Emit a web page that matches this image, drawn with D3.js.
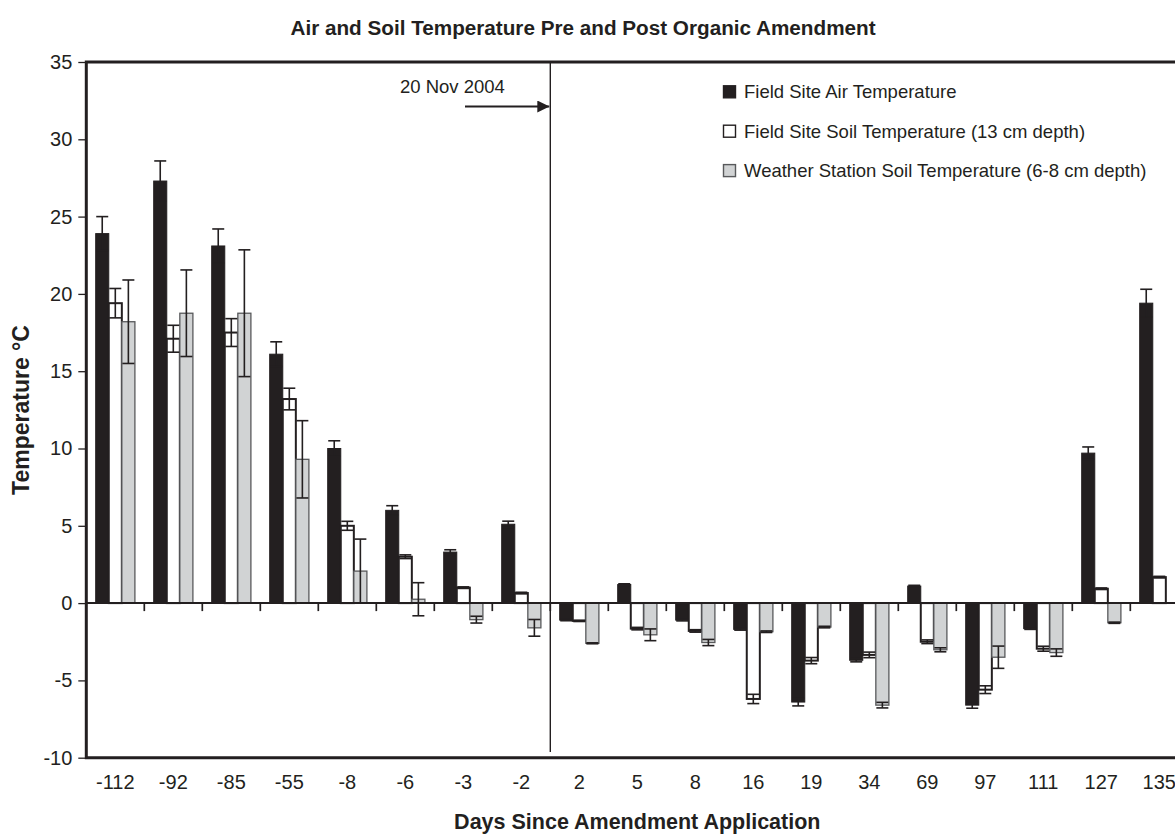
<!DOCTYPE html>
<html>
<head>
<meta charset="utf-8">
<script src="https://cdnjs.cloudflare.com/ajax/libs/d3/7.8.5/d3.min.js"></script>
<style>
  body { margin: 0; background: #fff; }
  text { font-family: "Liberation Sans", Arial, sans-serif; fill: #231f20; }
</style>
</head>
<body>
<div id="chart"></div>
<script>
// data
var days = ['-112','-92','-85','-55','-8','-6','-3','-2','2','5','8','16','19','34','69','97','111','127','135'];
var airTemp = [23.9, 27.3, 23.1, 16.1, 10.0, 6.0, 3.3, 5.1, -1.1, 1.2, -1.1, -1.7, -6.4, -3.7, 1.1, -6.6, -1.65, 9.7, 19.4];
var airErr = [1.1, 1.3, 1.1, 0.8, 0.5, 0.3, 0.15, 0.2, 0.04, 0.05, 0.05, 0.05, 0.25, 0.1, 0.05, 0.2, 0.05, 0.4, 0.9];
var soilTemp = [19.4, 17.1, 17.5, 13.2, 5.0, 3.0, 1.0, 0.65, -1.15, -1.65, -1.8, -6.2, -3.72, -3.35, -2.5, -5.6, -2.95, 0.93, 1.68];
var soilErr = [0.95, 0.87, 0.9, 0.7, 0.29, 0.12, 0.05, 0.05, 0.04, 0.08, 0.08, 0.3, 0.2, 0.18, 0.12, 0.25, 0.16, 0.05, 0.05];
var stationTemp = [18.2, 18.75, 18.75, 9.3, 2.07, 0.25, -1.07, -1.6, -2.6, -2.05, -2.55, -1.85, -1.55, -6.6, -3.02, -3.5, -3.2, -1.27, null];
var stationErr = [2.7, 2.8, 4.1, 2.5, 2.07, 1.07, 0.22, 0.54, 0.03, 0.38, 0.2, 0.05, 0.05, 0.18, 0.13, 0.72, 0.24, 0.04, 0];
var seriesNames = ['Field Site Air Temperature', 'Field Site Soil Temperature (13 cm depth)', 'Weather Station Soil Temperature (6-8 cm depth)'];
var yTicks = [-10, -5, 0, 5, 10, 15, 20, 25, 30, 35];

var ink = '#231f20';
var fills = [ink, '#ffffff', '#d1d3d4'];
var strokes = [ink, ink, '#58595b'];
var strokeW = [1, 2, 1.3];

var W = 1175, H = 835;
var plot = {left: 86.3, right: 1188.3, top: 62, bottom: 757.7};

var svg = d3.select('#chart').append('svg')
  .attr('width', W)
  .attr('height', H);

var x = d3.scaleBand().domain(days).range([plot.left, plot.right]).padding(0);
var xs = d3.scaleBand().domain([0, 1, 2]).range([9.4, 48.6]);
var y = d3.scaleLinear().domain([-10, 35]).range([plot.bottom, plot.top]);

// one row per series so bars and error bars come from the arrays
var series = [
  {vals: airTemp, errs: airErr},
  {vals: soilTemp, errs: soilErr},
  {vals: stationTemp, errs: stationErr}
];

function rowsOf(s){
  return days.map(function(d, i){ return {day: d, v: s.vals[i], e: s.errs[i]}; })
    .filter(function(r){ return r.v !== null; });
}

// bars
series.forEach(function(s, si){
  svg.append('g').selectAll('rect')
    .data(rowsOf(s))
    .enter()
    .append('rect')
    .attr('x', function(d){ return x(d.day) + xs(si); })
    .attr('width', xs.bandwidth())
    .attr('y', function(d){ return y(Math.max(0, d.v)); })
    .attr('height', function(d){ return Math.abs(y(d.v) - y(0)); })
    .attr('fill', fills[si])
    .attr('stroke', strokes[si])
    .attr('stroke-width', strokeW[si]);
});

// error bars
series.forEach(function(s, si){
  var g = svg.append('g').attr('stroke', ink).attr('stroke-width', 1.6);
  rowsOf(s).forEach(function(d){
    var cx = x(d.day) + xs(si) + xs.bandwidth() / 2;
    var hi = y(d.v + d.e), lo = y(d.v - d.e);
    g.append('line').attr('x1', cx).attr('x2', cx).attr('y1', hi).attr('y2', lo);
    g.append('line').attr('x1', cx - 6).attr('x2', cx + 6).attr('y1', hi).attr('y2', hi);
    g.append('line').attr('x1', cx - 6).attr('x2', cx + 6).attr('y1', lo).attr('y2', lo);
  });
});

// zero line with category ticks between bands
svg.append('line')
  .attr('x1', plot.left).attr('x2', W)
  .attr('y1', y(0)).attr('y2', y(0))
  .attr('stroke', ink).attr('stroke-width', 2);
svg.append('g').selectAll('line')
  .data(days.slice(1))
  .enter()
  .append('line')
  .attr('x1', function(d){ return x(d); })
  .attr('x2', function(d){ return x(d); })
  .attr('y1', y(0)).attr('y2', y(0) + 8)
  .attr('stroke', ink).attr('stroke-width', 1.7);

// amendment date marker
var markX = x('2');
svg.append('line')
  .attr('x1', markX).attr('x2', markX)
  .attr('y1', plot.top).attr('y2', 752)
  .attr('stroke', ink).attr('stroke-width', 1.4);
svg.append('defs').append('marker')
  .attr('id', 'arrow')
  .attr('viewBox', '0 0 12 12')
  .attr('refX', 12).attr('refY', 6)
  .attr('markerWidth', 12).attr('markerHeight', 12)
  .attr('markerUnits', 'userSpaceOnUse')
  .attr('orient', 'auto')
  .append('path')
  .attr('d', 'M0,0 L12,6 L0,12 Z')
  .attr('fill', ink);
svg.append('line')
  .attr('x1', 465).attr('x2', markX - 1)
  .attr('y1', 106.5).attr('y2', 106.5)
  .attr('stroke', ink).attr('stroke-width', 2)
  .attr('marker-end', 'url(#arrow)');
svg.append('text')
  .attr('x', 400).attr('y', 93.3)
  .style('font-size', '18.5px')
  .text('20 Nov 2004');

// y axis, plain hyphen for negatives as in the figure
var yAxis = svg.append('g')
  .attr('transform', 'translate(' + plot.left + ',0)')
  .call(d3.axisLeft(y).tickValues(yTicks).tickSize(8).tickPadding(6)
    .tickFormat(function(d){ return String(d); }));
yAxis.select('.domain').remove();
yAxis.selectAll('.tick line').attr('stroke', ink).attr('stroke-width', 1.3);
yAxis.selectAll('.tick text')
  .style('font-size', '20px')
  .style('font-family', '"Liberation Sans", Arial, sans-serif')
  .attr('fill', ink);

// x axis labels along the bottom frame
var xAxis = svg.append('g')
  .attr('transform', 'translate(0,' + plot.bottom + ')')
  .call(d3.axisBottom(x).tickSize(0).tickPadding(17));
xAxis.select('.domain').remove();
xAxis.selectAll('.tick text')
  .style('font-size', '20px')
  .style('font-family', '"Liberation Sans", Arial, sans-serif')
  .attr('fill', ink);

// frame: left, top, bottom
svg.append('path')
  .attr('d', 'M' + W + ',' + plot.top + 'H' + plot.left + 'V' + plot.bottom + 'H' + W)
  .attr('fill', 'none')
  .attr('stroke', ink)
  .attr('stroke-width', 3);

// legend
var legend = svg.append('g').attr('transform', 'translate(723,0)');
seriesNames.forEach(function(name, i){
  var by = 98.3 + i * 39.4;
  legend.append('rect')
    .attr('x', 0.5).attr('y', by - 12.5)
    .attr('width', 12).attr('height', 12)
    .attr('fill', fills[i])
    .attr('stroke', strokes[i])
    .attr('stroke-width', 1.4);
  legend.append('text')
    .attr('x', 21).attr('y', by)
    .style('font-size', '18.5px')
    .text(name);
});

// titles
svg.append('text')
  .attr('x', 583).attr('y', 35)
  .attr('text-anchor', 'middle')
  .style('font-size', '20.7px')
  .style('font-weight', 'bold')
  .text('Air and Soil Temperature Pre and Post Organic Amendment');

svg.append('text')
  .attr('x', (plot.left + plot.right) / 2).attr('y', 829)
  .attr('text-anchor', 'middle')
  .style('font-size', '21.5px')
  .style('font-weight', 'bold')
  .text('Days Since Amendment Application');

svg.append('text')
  .attr('transform', 'translate(29,410) rotate(-90)')
  .attr('text-anchor', 'middle')
  .style('font-size', '23px')
  .style('font-weight', 'bold')
  .text('Temperature °C');
</script>
</body>
</html>
